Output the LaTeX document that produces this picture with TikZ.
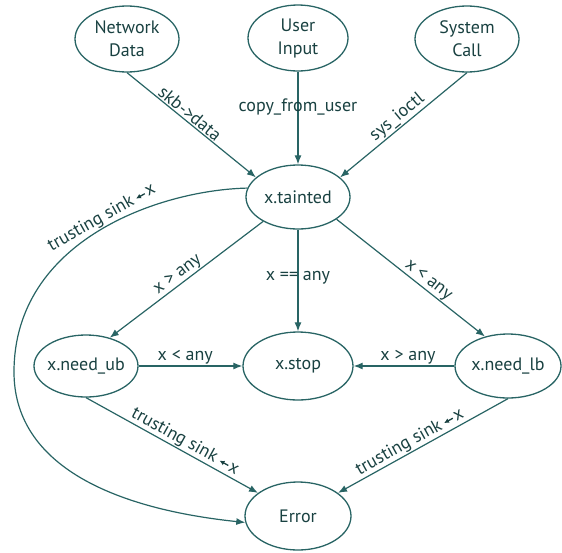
\documentclass[tikz,border=0pt]{standalone}
\usepackage{fontspec}
\setmainfont{PT Sans}
\usetikzlibrary{arrows.meta,shapes.geometric}
\definecolor{linecol}{RGB}{40,100,100}
\definecolor{textcol}{RGB}{25,65,65}
\newcommand{\zb}[1]{\makebox[0pt]{#1}}
\newcommand{\larr}{\,\tikz[x=1pt,y=1pt,baseline=0pt]\draw[line width=1.3pt,textcol,-{Latex[length=5pt,width=5pt]}] (10,4.6)--(0,4.6);\kern1pt}
\begin{document}
\begin{tikzpicture}[x=1pt,y=-1pt,
  st/.style={ellipse, draw=linecol, line width=1.3pt, inner sep=0pt, text=textcol,
             font=\fontsize{18}{23}\selectfont, align=center},
  conn/.style={draw=linecol, line width=1.2pt, -{Latex[length=9pt,width=7pt]}},
  lab/.style={text=textcol, font=\fontsize{18}{20}\selectfont, inner sep=1pt}]
\useasboundingbox (0,0) rectangle (562,552);
\node[st, minimum width=104pt, minimum height=66pt] (ND) at (127,39) {\zb{Network}\\\zb{Data}};
\node[st, minimum width=100pt, minimum height=66pt] (UI) at (298,38) {\zb{User}\\\zb{Input}};
\node[st, minimum width=104pt, minimum height=66pt] (SC) at (467,39) {\zb{System}\\\zb{Call}};
\node[st, minimum width=104pt, minimum height=64pt] (XT) at (298,197) {\zb{x.tainted}};
\node[st, minimum width=104pt, minimum height=62pt] (NU) at (86,366) {\zb{x.need\_ub}};
\node[st, minimum width=110pt, minimum height=68pt] (XS) at (298,366) {\zb{x.stop}};
\node[st, minimum width=106pt, minimum height=64pt] (NL) at (508,366) {\zb{x.need\_lb}};
\node[st, minimum width=106pt, minimum height=68pt] (ER) at (298,516) {\zb{Error}};

\draw[conn] (ND.south) -- node[lab, sloped, above, pos=0.45] {skb->data} (XT.155);
\draw[conn] (UI.south) -- node[lab, pos=0.38] {copy\_from\_user} (XT.north);
\draw[conn] (SC.south) -- node[lab, sloped, above, pos=0.5] {sys\_ioctl} (XT.25);
\draw[conn] (XT.215) -- node[lab, sloped, above, pos=0.52] {x > any} (NU.50);
\draw[conn] (XT.south) -- node[lab, pos=0.47] {x == any} (XS.north);
\draw[conn] (XT.330) -- node[lab, sloped, above, pos=0.58] {x < any} (NL.128);
\draw[conn] (NU.east) -- node[lab, above, pos=0.45] {x < any} (XS.west);
\draw[conn] (NL.west) -- node[lab, above, pos=0.46] {x > any} (XS.east);
\draw[conn] (NU.south) -- node[lab, sloped, above, pos=0.55] {trusting sink\larr x} (ER.150);
\draw[conn] (NL.south) -- node[lab, sloped, above, pos=0.55] {trusting sink\larr x} (ER.30);
\draw[conn] (XT.170) .. controls (160,190) and (14,240) .. (14,372)
  node[lab, sloped, above, pos=0.47] {trusting sink\larr x}
  .. controls (14,462) and (107,508) .. (ER.187);
\end{tikzpicture}
\end{document}
